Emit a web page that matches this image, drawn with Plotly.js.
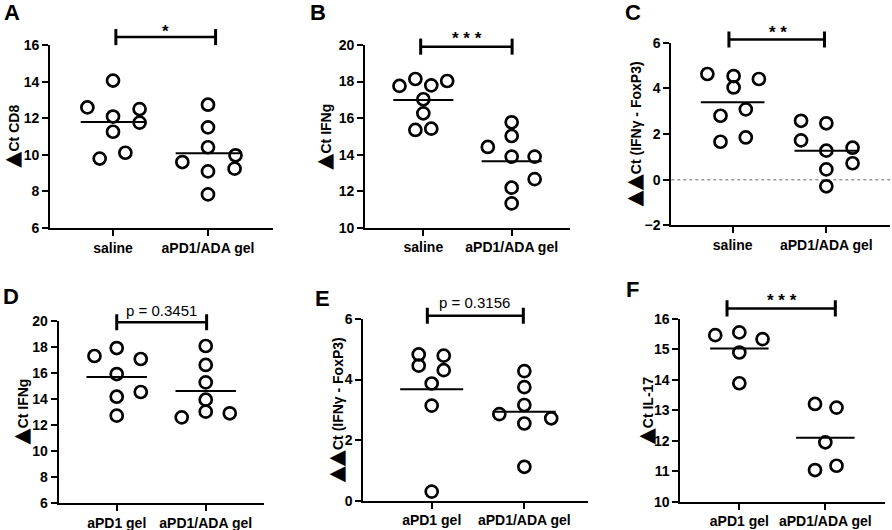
<!DOCTYPE html>
<html>
<head>
<meta charset="utf-8">
<script src="https://cdn.plot.ly/plotly-3.0.1.min.js"></script>
<style>html,body{margin:0;padding:0;background:#fff}</style>
</head>
<body>
<div id="chart" style="width:892px;height:530px"></div>
<script>
const FONT = 'Liberation Sans, Arial, Helvetica, sans-serif';

const topGroups = ['saline', 'aPD1/ADA gel'];
const bottomGroups = ['aPD1 gel', 'aPD1/ADA gel'];

// A - dCt CD8
const cd8Saline = [12.6, 14.07, 12.1, 11.27, 12.51, 11.77, 9.8, 10.12];
const cd8SalineJitter = [-0.27, 0, 0, 0, 0.28, 0.28, -0.14, 0.13];
const cd8Ada = [12.75, 11.51, 10.42, 9.98, 9.61, 9.1, 9.25, 7.84];
const cd8AdaJitter = [0, 0, 0, 0.29, -0.27, 0, 0.28, 0];
const cd8Means = [11.8, 10.09];

// B - dCt IFNg
const ifngSaline = [17.76, 18.14, 17.79, 18.03, 17.03, 16.26, 15.35, 15.42];
const ifngSalineJitter = [-0.27, -0.09, 0.09, 0.27, 0, 0, -0.09, 0.09];
const ifngAda = [15.77, 15.02, 14.42, 13.89, 13.89, 12.66, 12.19, 11.33];
const ifngAdaJitter = [0, 0, -0.27, 0, 0.26, 0.26, 0, 0];
const ifngMeans = [16.99, 13.63];

// C - ddCt (IFNg - FoxP3)
const ratioSaline = [4.63, 4.54, 4.04, 4.41, 2.8, 3.08, 1.66, 1.85];
const ratioSalineJitter = [-0.27, 0.01, 0.01, 0.28, -0.13, 0.14, -0.13, 0.14];
const ratioAda = [2.58, 2.47, 1.72, 1.27, 1.4, 0.72, 0.45, -0.29];
const ratioAdaJitter = [-0.27, 0, -0.27, 0, 0.28, 0.28, 0, 0];
const ratioMeans = [3.39, 1.27];

// D - dCt IFNg, gel groups
const gelIfngPd1 = [17.31, 17.92, 17.08, 15.92, 14.18, 14.54, 12.72];
const gelIfngPd1Jitter = [-0.25, 0, 0.27, 0, 0, 0.27, 0];
const gelIfngAda = [18.08, 16.62, 15.28, 13.95, 13.03, 12.59, 12.9];
const gelIfngAdaJitter = [0, 0, 0, 0, 0, -0.27, 0.27];
const gelIfngMeans = [15.69, 14.62];

// E - ddCt (IFNg - FoxP3), gel groups
const gelRatioPd1 = [4.83, 4.79, 4.46, 4.31, 3.87, 3.14, 0.3];
const gelRatioPd1Jitter = [-0.14, 0.13, -0.14, 0.13, 0, 0, 0];
const gelRatioAda = [4.28, 3.75, 3.16, 2.86, 2.55, 2.72, 1.12];
const gelRatioAdaJitter = [0, 0, 0, -0.27, 0, 0.29, 0];
const gelRatioMeans = [3.68, 2.94];

// F - dCt IL-17
const il17Pd1 = [15.47, 15.56, 15.34, 14.9, 13.89];
const il17Pd1Jitter = [-0.28, 0, 0.27, 0, 0];
const il17Ada = [13.21, 13.09, 11.95, 11.04, 11.18];
const il17AdaJitter = [-0.12, 0.13, 0, -0.12, 0.13];
const il17Means = [15.03, 12.1];

const TRI = '<span style="font-family:DejaVu Sans;font-size:21px">\u25B2</span>';
const TRI2 = '<span style="font-family:DejaVu Sans;font-size:21px">\u25B2\u25B2</span>';

const panels = [
    {letter: 'A', groups: topGroups, a: cd8Saline, aj: cd8SalineJitter, b: cd8Ada, bj: cd8AdaJitter, means: cd8Means,
     title: TRI + 'Ct CD8', yRange: [6, 16], dtick: 2,
     xRange: [-0.663, 1.684], xDomain: [0.0561, 0.306], yDomain: [0.5698, 0.9145],
     titleX: 12, letterPos: [11.7, 12.5],
     sig: {x0: 0.03, x1: 1.08, y: 1.045, text: '*', tx: 0.555, ty: 1.10, star: true}},
    {letter: 'B', groups: topGroups, a: ifngSaline, aj: ifngSalineJitter, b: ifngAda, bj: ifngAdaJitter, means: ifngMeans,
     title: TRI + 'Ct IFNg', yRange: [10, 20], dtick: 2,
     xRange: [-0.66, 1.66], xDomain: [0.4092, 0.639], yDomain: [0.5704, 0.9151],
     titleX: 324.3, letterPos: [318.3, 12.5],
     sig: {x0: -0.03, x1: 1.005, y: 0.991, text: '* * *', tx: 0.5, ty: 1.055, star: true}},
    {letter: 'C', groups: topGroups, a: ratioSaline, aj: ratioSalineJitter, b: ratioAda, bj: ratioAdaJitter, means: ratioMeans,
     title: TRI2 + 'Ct (IFN\u03B3 - FoxP3)', yRange: [-2, 6], dtick: 2, zeroLine: true,
     xRange: [-0.655, 1.68], xDomain: [0.7526, 0.9978], yDomain: [0.5749, 0.9194],
     titleX: 634.5, letterPos: [633, 12.8],
     sig: {x0: -0.04, x1: 0.98, y: 1.018, text: '* *', tx: 0.48, ty: 1.08, star: true}},
    {letter: 'D', groups: bottomGroups, a: gelIfngPd1, aj: gelIfngPd1Jitter, b: gelIfngAda, bj: gelIfngAdaJitter, means: gelIfngMeans,
     title: TRI + 'Ct IFNg', yRange: [6, 20], dtick: 2,
     xRange: [-0.652, 1.658], xDomain: [0.0658, 0.2963], yDomain: [0.0509, 0.3943],
     titleX: 21.5, letterPos: [10.8, 296.7],
     sig: {x0: 0, x1: 1.01, y: 0.993, text: 'p = 0.3451', tx: 0.506, ty: 1.06, star: false}},
    {letter: 'E', groups: bottomGroups, a: gelRatioPd1, aj: gelRatioPd1Jitter, b: gelRatioAda, bj: gelRatioAdaJitter, means: gelRatioMeans,
     title: TRI2 + 'Ct (IFN\u03B3 - FoxP3)', yRange: [0, 6], dtick: 2,
     xRange: [-0.738, 1.69], xDomain: [0.4073, 0.6595], yDomain: [0.0553, 0.3981],
     titleX: 335.5, letterPos: [322.5, 298.3],
     sig: {x0: -0.047, x1: 0.989, y: 1.018, text: 'p = 0.3156', tx: 0.467, ty: 1.092, star: false}},
    {letter: 'F', groups: bottomGroups, a: il17Pd1, aj: il17Pd1Jitter, b: il17Ada, bj: il17AdaJitter, means: il17Means,
     title: TRI + 'Ct IL-17', yRange: [10, 16], dtick: 1,
     xRange: [-0.686, 1.69], xDomain: [0.7627, 0.9918], yDomain: [0.0534, 0.3981],
     titleX: 646, letterPos: [632, 289.5],
     sig: {x0: -0.143, x1: 1.116, y: 1.058, text: '* * *', tx: 0.5, ty: 1.122, star: true}}
];

const W = 892, H = 530;
const traces = [];
const shapes = [];
const annotations = [];
const layout = {
    width: W, height: H,
    margin: {l: 0, r: 0, t: 0, b: 0},
    paper_bgcolor: 'white', plot_bgcolor: 'white',
    showlegend: false,
    font: {family: FONT, color: 'black'},
    shapes: shapes, annotations: annotations
};

const tickFont = {family: FONT, size: 14, color: 'black', weight: 700};
const markerStyle = {symbol: 'circle-open', size: 12, color: 'black', line: {width: 2.7, color: 'black'}};

panels.forEach((p, i) => {
    const n = i === 0 ? '' : String(i + 1);
    const xa = 'x' + n, ya = 'y' + n;

    [[p.a, p.aj, 0], [p.b, p.bj, 1]].forEach(([vals, jit, cat]) => {
        traces.push({
            x: jit.map(j => cat + j), y: vals,
            xaxis: xa, yaxis: ya,
            type: 'scatter', mode: 'markers',
            marker: markerStyle, cliponaxis: false, hoverinfo: 'y'
        });
        traces.push({
            x: [cat - 0.34, cat + 0.34], y: [p.means[cat], p.means[cat]],
            xaxis: xa, yaxis: ya,
            type: 'scatter', mode: 'lines',
            line: {color: 'black', width: 2}, hoverinfo: 'skip'
        });
    });

    const axisCommon = {
        showline: true, linecolor: 'black', linewidth: 2,
        ticks: 'outside', ticklen: 6, tickwidth: 2, tickcolor: 'black',
        showgrid: false, zeroline: false, fixedrange: true,
        tickfont: tickFont, tickprefix: '<b>', ticksuffix: '</b>'
    };
    layout['xaxis' + n] = Object.assign({
        domain: p.xDomain, range: p.xRange, anchor: ya,
        tickvals: [0, 1], ticktext: p.groups.map(g => '<b>' + g + '</b>')
    }, axisCommon);
    layout['yaxis' + n] = Object.assign({
        domain: p.yDomain, range: p.yRange, anchor: xa,
        tick0: p.yRange[0], dtick: p.dtick
    }, axisCommon);

    if (p.zeroLine) {
        shapes.push({type: 'line', xref: xa + ' domain', yref: ya, x0: 0, x1: 1, y0: 0, y1: 0,
            line: {color: '#999', width: 1.5, dash: 'dot'}, layer: 'below'});
    }

    // significance bracket
    const s = p.sig, h = 0.044;
    const yd = ya + ' domain';
    shapes.push({type: 'line', xref: xa, yref: yd, x0: s.x0, x1: s.x1, y0: s.y, y1: s.y, line: {color: 'black', width: 2.5}});
    shapes.push({type: 'line', xref: xa, yref: yd, x0: s.x0, x1: s.x0, y0: s.y - h, y1: s.y + h, line: {color: 'black', width: 3}});
    shapes.push({type: 'line', xref: xa, yref: yd, x0: s.x1, x1: s.x1, y0: s.y - h, y1: s.y + h, line: {color: 'black', width: 3}});
    annotations.push({
        xref: xa, yref: yd, x: s.tx, y: s.ty, text: s.star ? '<b>' + s.text + '</b>' : s.text, showarrow: false,
        xanchor: 'center', yanchor: 'middle', yshift: s.star ? -4 : 0,
        font: {family: FONT, size: s.star ? 17 : 15, color: 'black'}
    });

    // y title
    annotations.push({
        xref: 'paper', yref: 'paper', x: p.titleX / W, y: (p.yDomain[0] + p.yDomain[1]) / 2,
        text: '<b>' + p.title + '</b>', textangle: -90, showarrow: false, xanchor: 'center', yanchor: 'middle',
        font: {family: FONT, size: 14, color: 'black'}
    });

    // panel letter
    annotations.push({
        xref: 'paper', yref: 'paper', x: p.letterPos[0] / W, y: 1 - p.letterPos[1] / H,
        text: '<b>' + p.letter + '</b>', showarrow: false, xanchor: 'center', yanchor: 'middle',
        font: {family: FONT, size: 22, color: 'black'}
    });
});

Plotly.newPlot('chart', traces, layout, {displayModeBar: false, staticPlot: true});
</script>
</body>
</html>
